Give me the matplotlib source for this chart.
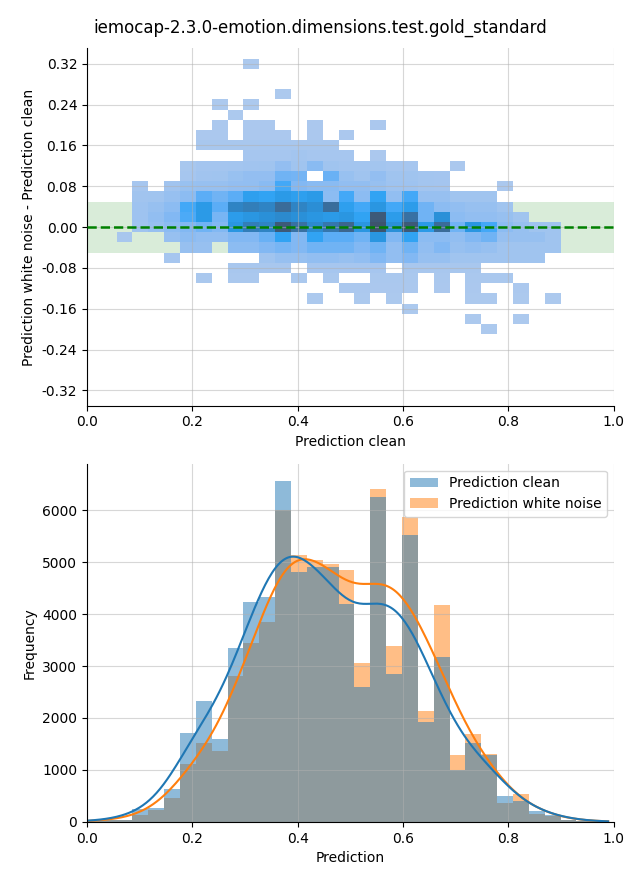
import numpy as np
import matplotlib
matplotlib.use("Agg")
import matplotlib.pyplot as plt
import seaborn as sns

# ---------------- data ----------------
title = "iemocap-2.3.0-emotion.dimensions.test.gold_standard"

# shared prediction bins
bin_start = -0.004
bin_width = 0.0301
n_bins = 33

# 1D histogram counts (per bin)
clean_counts = [30, 35, 45, 250, 270, 635, 1712, 2327, 1596, 3346, 4231, 4327,
                6564, 4801, 4897, 4897, 4199, 2596, 6244, 2853, 5526, 1930,
                3179, 1000, 1515, 1290, 500, 405, 212, 128, 40, 20, 10]
noise_counts = [25, 30, 40, 141, 231, 468, 1115, 1513, 1365, 2814, 3442, 3846,
                6000, 5141, 5045, 4968, 4853, 3058, 6397, 3385, 5859, 2135,
                4179, 1288, 1686, 1301, 365, 538, 160, 120, 40, 20, 10]

# 2D histogram: columns are prediction bins 2..29, rows are difference bins
first_col = 2
diff_bin_start = -0.21
diff_bin_width = 0.02
diff_counts = [  # rows from -0.20 (bottom) to 0.32 (top)
    [0,0,0,0,0,0,0,0,0,0,0,0,0,0,0,0,0,0,0,0,0,0,0,5,0,0,0,0],          # -0.20
    [0,0,0,0,0,0,0,0,0,0,0,0,0,0,0,0,0,0,0,0,0,0,5,0,0,5,0,0],          # -0.18
    [0,0,0,0,0,0,0,0,0,0,0,0,0,0,0,0,0,0,5,0,0,0,0,0,0,0,0,0],          # -0.16
    [0,0,0,0,0,0,0,0,0,0,0,0,5,0,0,5,0,5,0,0,0,0,5,5,0,5,0,5],          # -0.14
    [0,0,0,0,0,0,0,0,0,0,0,0,0,0,10,10,10,10,10,0,10,0,10,0,0,10,0,0],  # -0.12
    [0,0,0,0,0,15,0,15,15,0,0,15,0,15,0,0,15,15,15,0,15,0,15,15,15,0,0,0],  # -0.10
    [0,0,0,0,0,0,0,30,30,30,30,0,40,40,40,40,40,0,30,30,30,30,30,0,0,0,0,0],  # -0.08
    [0,0,0,40,0,0,0,0,0,80,130,130,160,160,130,160,240,160,240,130,130,80,80,80,80,80,80,0],  # -0.06
    [0,0,0,0,130,130,0,190,190,240,290,240,320,320,320,240,320,160,320,160,240,130,160,130,80,80,80,80],  # -0.04
    [30,0,0,130,190,160,160,240,240,350,560,240,560,400,400,320,720,240,560,190,190,160,240,320,130,130,130,80],  # -0.02
    [0,80,130,190,240,320,240,720,1040,960,1520,1200,880,1120,1360,720,1600,800,1520,670,1280,320,720,480,190,130,80,80],  # 0.00
    [0,90,160,240,450,670,290,640,720,800,880,800,720,670,720,560,1520,640,1200,320,800,190,160,160,130,80,0,0],  # 0.02
    [0,90,130,190,480,670,400,960,1040,960,1280,960,830,1250,600,480,720,480,640,320,190,160,130,130,80,0,0,0],  # 0.04
    [0,70,80,130,190,400,320,400,600,560,670,600,670,190,480,190,560,160,480,130,130,80,80,80,0,0,0,0],  # 0.06
    [0,40,0,70,120,130,130,150,160,200,480,240,200,200,160,160,130,90,90,60,50,0,0,0,10,0,0,0],  # 0.08
    [0,0,0,0,40,70,80,120,150,150,320,300,0,350,120,80,150,80,80,60,50,0,0,0,0,0,0,0],  # 0.10
    [0,0,0,0,30,50,50,60,70,80,150,80,200,80,60,60,60,40,40,0,0,10,0,0,0,0,0,0],  # 0.12
    [0,0,0,0,0,0,0,0,40,40,40,60,40,40,40,0,10,0,0,0,0,0,0,0,0,0,0,0],  # 0.14
    [0,0,0,0,0,25,25,25,25,35,35,25,25,25,0,0,0,0,0,0,0,0,0,0,0,0,0,0],  # 0.16
    [0,0,0,0,0,10,10,0,10,10,10,0,10,0,10,0,0,0,0,0,0,0,0,0,0,0,0,0],  # 0.18
    [0,0,0,0,0,0,8,0,8,8,0,0,8,0,0,0,8,0,0,0,0,0,0,0,0,0,0,0],  # 0.20
    [0,0,0,0,0,0,0,5,0,0,0,0,0,0,0,0,0,0,0,0,0,0,0,0,0,0,0,0],  # 0.22
    [0,0,0,0,0,0,5,0,5,0,0,0,0,0,0,0,0,0,0,0,0,0,0,0,0,0,0,0],  # 0.24
    [0,0,0,0,0,0,0,0,0,0,5,0,0,0,0,0,0,0,0,0,0,0,0,0,0,0,0,0],  # 0.26
    [0,0,0,0,0,0,0,0,0,0,0,0,0,0,0,0,0,0,0,0,0,0,0,0,0,0,0,0],  # 0.28
    [0,0,0,0,0,0,0,0,0,0,0,0,0,0,0,0,0,0,0,0,0,0,0,0,0,0,0,0],  # 0.30
    [0,0,0,0,0,0,0,0,5,0,0,0,0,0,0,0,0,0,0,0,0,0,0,0,0,0,0,0],  # 0.32
]

tolerance = 0.05
kde_bandwidth = 0.045

# ---------------- derived ----------------
edges = bin_start + bin_width * np.arange(n_bins + 1)
centers = 0.5 * (edges[:-1] + edges[1:])
clean_counts = np.array(clean_counts, float)
noise_counts = np.array(noise_counts, float)

D = np.array(diff_counts, float)
n_rows, n_cols = D.shape
x_edges2 = edges[first_col:first_col + n_cols + 1]
y_edges2 = diff_bin_start + diff_bin_width * np.arange(n_rows + 1)
xc2 = 0.5 * (x_edges2[:-1] + x_edges2[1:])
yc2 = 0.5 * (y_edges2[:-1] + y_edges2[1:])
XX, YY = np.meshgrid(xc2, yc2)
mask = D > 0

def kde_curve(counts, grid):
    dens = np.zeros_like(grid)
    for c, w in zip(centers, counts):
        dens += w * np.exp(-0.5 * ((grid - c) / kde_bandwidth) ** 2)
    dens /= (kde_bandwidth * np.sqrt(2 * np.pi))
    return dens * bin_width

grid = np.linspace(edges[0], edges[-1], 300)

# ---------------- plot ----------------
fig = plt.figure(figsize=(6.4, 8.8), dpi=100)
ax1 = fig.add_axes([0.136, 0.539, 0.823, 0.406])
ax2 = fig.add_axes([0.136, 0.066, 0.823, 0.407])

grid_kw = dict(color="#b0b0b0", alpha=0.5, linewidth=0.8)

# top: 2D histogram
ax1.axhspan(-tolerance, tolerance, color="green", alpha=0.15, linewidth=0)
sns.histplot(x=XX[mask], y=YY[mask], weights=D[mask],
             bins=[x_edges2, y_edges2], ax=ax1)
ax1.axhline(0, color="green", linestyle="--", linewidth=1.8, zorder=3)
ax1.set_xlim(0, 1)
ax1.set_ylim(-0.35, 0.35)
ax1.set_yticks(np.round(np.arange(-0.32, 0.33, 0.08), 2))
ax1.yaxis.set_major_formatter(matplotlib.ticker.FormatStrFormatter("%.2f"))
ax1.set_xticks(np.arange(0, 1.01, 0.2))
ax1.grid(True, **grid_kw)
ax1.set_xlabel("Prediction clean")
ax1.set_ylabel("Prediction white noise - Prediction clean")

# bottom: overlapping histograms with KDE
h_noise = ax2.hist(centers, bins=edges, weights=noise_counts, color="C1",
                   alpha=0.5, label="Prediction white noise")[2]
h_clean = ax2.hist(centers, bins=edges, weights=clean_counts, color="C0",
                   alpha=0.5, label="Prediction clean")[2]
ax2.plot(grid, kde_curve(noise_counts, grid), color="C1", linewidth=1.5)
ax2.plot(grid, kde_curve(clean_counts, grid), color="C0", linewidth=1.5)
ax2.set_xlim(0, 1)
ax2.set_xticks(np.arange(0, 1.01, 0.2))
ax2.set_yticks(np.arange(0, 6001, 1000))
ax2.grid(True, **grid_kw)
ax2.set_xlabel("Prediction")
ax2.set_ylabel("Frequency")
ax2.legend([h_clean[0], h_noise[0]], ["Prediction clean", "Prediction white noise"],
           loc="upper right")

for ax in (ax1, ax2):
    ax.spines["top"].set_visible(False)
    ax.spines["right"].set_visible(False)

fig.suptitle(title, y=0.979, fontsize=12)
fig.savefig("out.png", dpi=100)
